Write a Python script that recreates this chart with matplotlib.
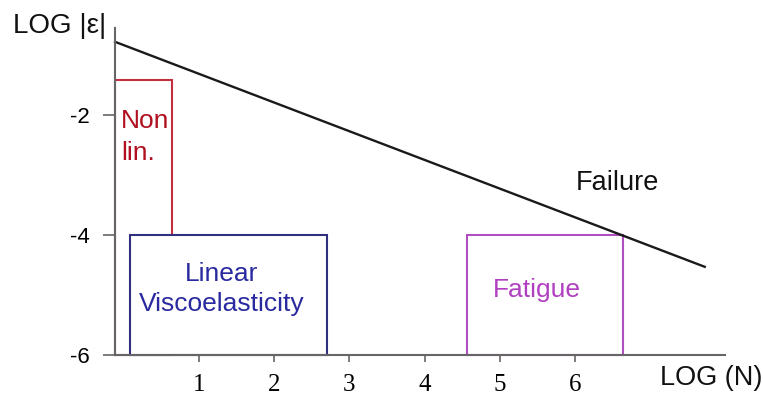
import matplotlib
matplotlib.use("Agg")
import matplotlib.pyplot as plt
from matplotlib.patches import Rectangle

# Data
x_ticks = [1, 2, 3, 4, 5, 6]
x_tick_labels = ["1", "2", "3", "4", "5", "6"]
y_ticks = [-2, -4, -6]
y_tick_labels = ["-2", "-4", "-6"]

failure_x = [-0.12, 7.73]
failure_y = [-0.78, -4.53]

# regions: (x0, x1, y0, y1)
nonlin_box = (-0.12, 0.64, -6.0, -1.42)
linear_box = (0.08, 2.70, -6.0, -4.0)
fatigue_box = (4.56, 6.64, -6.0, -4.0)

W, H = 763, 395
fig = plt.figure(figsize=(W / 100, H / 100), dpi=100)
ax = fig.add_axes([115 / W, (H - 355) / H, (725 - 115) / W, (355 - 28) / H])
ax.set_xlim(-0.12, 8.0)
ax.set_ylim(-6.0, -0.55)

for s in ["top", "right"]:
    ax.spines[s].set_visible(False)
for s in ["left", "bottom"]:
    ax.spines[s].set_color("#666666")
    ax.spines[s].set_linewidth(1.5)
    ax.spines[s].set_zorder(6)

ax.set_xticks(x_ticks)
ax.set_xticklabels(x_tick_labels, family="Liberation Serif", fontsize=18)
ax.set_yticks(y_ticks)
ax.set_yticklabels(y_tick_labels, family="Liberation Sans", fontsize=16)
ax.tick_params(axis="x", length=5, width=1.2, color="#666666", pad=9)
ax.tick_params(axis="y", length=9, width=1.2, color="#666666", pad=9)

def box(b, color, lw=1.5, z=2):
    x0, x1, y0, y1 = b
    ax.add_patch(Rectangle((x0, y0), x1 - x0, y1 - y0, fill=True,
                           facecolor="white", edgecolor=color, lw=lw, zorder=z,
                           clip_on=False))

box(nonlin_box, "#c03040", z=2)
box(linear_box, "#30307f", z=3)
box(fatigue_box, "#b050c0", z=3)

ax.plot(failure_x, failure_y, color="#1a1a1a", lw=1.7, zorder=4, clip_on=False)

ax.text(-0.04, -2.37, "Non\nlin.", color="#b01020", fontsize=19,
        family="Liberation Sans", ha="left", va="center", linespacing=1.45, zorder=5)
ax.text(1.30, -4.9, "Linear\nViscoelasticity", color="#2a2aa0", fontsize=19,
        family="Liberation Sans", ha="center", va="center", linespacing=1.34, zorder=5)
ax.text(5.50, -4.92, "Fatigue", color="#b040c0", fontsize=19,
        family="Liberation Sans", ha="center", va="center", zorder=5)
ax.text(6.57, -3.13, "Failure", color="#111111", fontsize=19.5,
        family="Liberation Sans", ha="center", va="center", zorder=5)

fig.text(60 / W, 1 - 26 / H, "LOG |ε|", fontsize=20, family="Liberation Sans",
         ha="center", va="center", color="#111111")
fig.text(711 / W, 1 - 378 / H, "LOG (N)", fontsize=19.5, family="Liberation Sans",
         ha="center", va="center", color="#111111")

fig.savefig("out.png", dpi=100)
